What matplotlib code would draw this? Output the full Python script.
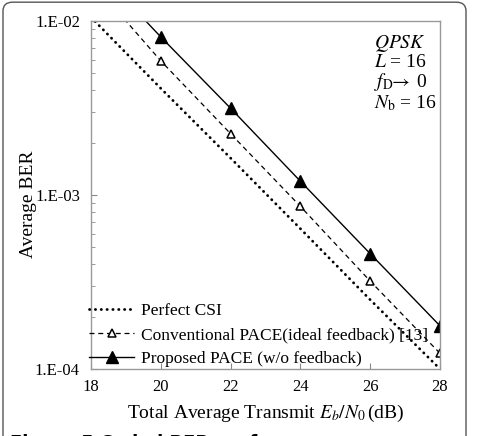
import numpy as np
import matplotlib
matplotlib.use("Agg")
import matplotlib.pyplot as plt
from matplotlib.patches import FancyBboxPatch

plt.rcParams['font.family'] = ['Liberation Serif', 'DejaVu Serif']
plt.rcParams['mathtext.fontset'] = 'stix'

# Eb/N0 (dB)
snr = [18, 20, 22, 24, 26, 28]
# BER values
ber_perfect = [1.05e-2, 4.1e-3, 1.63e-3, 6.4e-4, 2.5e-4, 1.0e-4]
ber_conventional = [1.7e-2, 5.9e-3, 2.25e-3, 8.6e-4, 3.2e-4, 1.23e-4]
ber_proposed = [2.15e-2, 8.1e-3, 3.15e-3, 1.2e-3, 4.6e-4, 1.77e-4]

labels = ['Perfect CSI', 'Conventional PACE(ideal feedback) [13]',
          'Proposed PACE (w/o feedback)']

fig = plt.figure(figsize=(4.8, 4.36), dpi=100)
ax = fig.add_axes([91/480, 1-369/436, 349/480, 348/436])

# outer journal frame
frame = FancyBboxPatch((3/480, -0.05), 463/480, 1.045, transform=fig.transFigure,
                       boxstyle="round,pad=0,rounding_size=0.02", fill=False,
                       edgecolor='#555555', linewidth=1.0)
fig.patches.append(frame)

ax.plot(snr, ber_perfect, color='black', linestyle=(0, (0.1, 2.0)), linewidth=2.0,
        dash_capstyle='round', label=labels[0])
ax.plot(snr, ber_conventional, color='black', linestyle=(0, (4, 3)), linewidth=0.9,
        marker='^', markersize=6, markerfacecolor='white', markeredgewidth=1.1,
        markevery=[1, 2, 3, 4, 5], label=labels[1])
ax.plot(snr, ber_proposed, color='black', linestyle='-', linewidth=1.0,
        marker='^', markersize=8, markerfacecolor='black',
        markevery=[1, 2, 3, 4, 5], label=labels[2])

ax.set_yscale('log')
ax.set_xlim(18, 28)
ax.set_ylim(1e-4, 1e-2)
ax.set_xticks([18, 20, 22, 24, 26, 28])
ax.set_yticks([1e-4, 1e-3, 1e-2])
ax.set_yticklabels(['1.E-04', '1.E-03', '1.E-02'])
ax.tick_params(axis='both', which='both', direction='in', colors='#888888',
               labelcolor='black', labelsize=12)
ax.tick_params(axis='y', which='minor', length=3)
ax.tick_params(axis='y', which='major', length=4, pad=8)
ax.tick_params(axis='x', which='major', length=4, pad=7)
ax.yaxis.set_minor_formatter(matplotlib.ticker.NullFormatter())
for s in ax.spines.values():
    s.set_color('#999999')
    s.set_linewidth(1.0)

ax.set_xlabel('Total Average Transmit $E_b/N_0\\,$(dB)', fontsize=14, labelpad=6)
ax.set_ylabel('Average BER', fontsize=14)
ax.yaxis.set_label_coords(-0.155, 0.474)

ax.text(0.812, 0.966,
        '$QPSK$\n$L$ = 16\n$f_\\mathrm{D}\\!\\!\\rightarrow$ 0\n$N_\\mathrm{b}$ = 16',
        transform=ax.transAxes, fontsize=14, va='top', ha='left', linespacing=1.0)

ax.legend(loc='lower left', frameon=False, fontsize=12.5, handlelength=2.6,
          borderaxespad=0.0, borderpad=0.1, labelspacing=0.45, handletextpad=0.4,
          bbox_to_anchor=(-0.01, 0.0))

fig.text(10/480, -16/436, 'Figure 5 Coded BER performance', fontsize=13,
         fontweight='bold', family='DejaVu Sans', va='bottom')

fig.savefig('out.png', dpi=100)
